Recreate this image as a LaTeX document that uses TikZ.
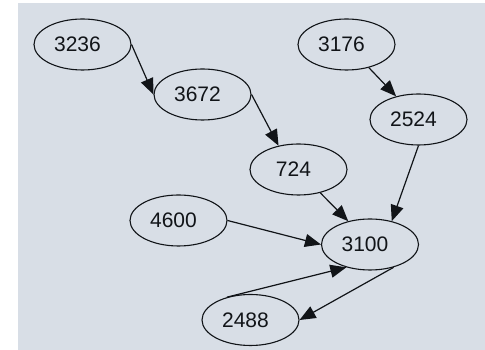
\documentclass[tikz,border=0pt]{standalone}
\usepackage{fontspec}
\setmainfont{Liberation Sans}
\usetikzlibrary{shapes.geometric,arrows.meta}
\definecolor{panel}{HTML}{D8DEE6}
\definecolor{ink}{HTML}{111418}
\begin{document}
\begin{tikzpicture}[x=1pt,y=1pt,
  vertex/.style={ellipse,draw=ink,line width=1.1pt,minimum width=97pt,minimum height=51pt,
    inner sep=0pt,text=ink,font=\fontsize{21}{25}\selectfont,
    execute at begin node={\kern-10pt}},
  link/.style={draw=ink,line width=1.2pt,-{Triangle[length=16pt,width=13pt]}}]
  \useasboundingbox (0,0) rectangle (485,350);
  \fill[panel] (18,0) rectangle (485,347);
  % nodes (y measured upward)
  \node[vertex] (n3236) at (82.5,305.5) {3236};
  \node[vertex] (n3672) at (202.5,255.5) {3672};
  \node[vertex] (n3176) at (346.5,305.5) {3176};
  \node[vertex] (n2524) at (418.5,230.5) {2524};
  \node[vertex] (n724)  at (298.5,180.5) {724};
  \node[vertex] (n4600) at (178.5,129.5) {4600};
  \node[vertex] (n3100) at (370,105.5) {3100};
  \node[vertex] (n2488) at (250.5,30) {2488};
  % edges
  \draw[link] (n3236.east) -- (n3672.west);
  \draw[link] (n3672.east) -- (n724.130);
  \draw[link] (n3176.-46) -- (n2524.134);
  \draw[link] (n2524.south) -- (n3100.47);
  \draw[link] (n724.-47) -- (n3100.133);
  \draw[link] (n4600.east) -- (n3100.west);
  \draw[link] (n2488.136) -- (n3100.-136);
  \draw[link] (n3100.-44) -- (n2488.east);
\end{tikzpicture}
\end{document}
